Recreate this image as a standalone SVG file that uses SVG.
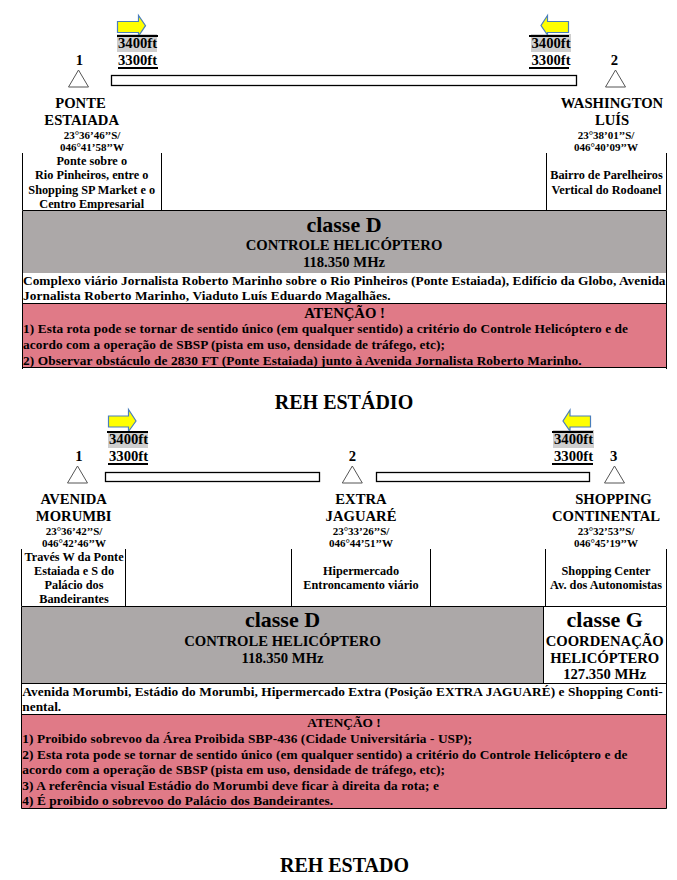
<svg xmlns="http://www.w3.org/2000/svg" width="677" height="880" viewBox="0 0 677 880">
<style>
text{font-family:"Liberation Serif","Times New Roman",serif;font-weight:700;fill:#000}
.m{text-anchor:middle}
.n{font-size:14.67px}
.s{font-size:11px}
.d{font-size:12.27px}
.c{font-size:22px}
.b{font-size:13.33px}
.t{font-size:20px}
.l{stroke:#000;stroke-width:1;fill:none}
.k{stroke:#000;stroke-width:2;fill:none}
.bar{stroke:#000;stroke-width:1.3;fill:#fff}
.tri{fill:#fff;stroke:#555;stroke-width:1}
.ar{fill:#ff0;stroke:#4a7ebb;stroke-width:1.2}
.gr{fill:#aca8a8}
.rd{fill:#e07a87}
.hl{fill:#cfcfcf}
</style>
<rect width="677" height="880" fill="#fff"/>
<g id="route-1-connectors">
<rect class="bar" x="111.500" y="75.500" width="465" height="10"/>
</g>
<g id="alt-1a">
<rect class="hl" x="117" y="34" width="40" height="18"/>
<path class="ar" d="M117.500 21.500H138.500V15.500L145.500 25.700L138.500 36V32.500H117.500Z"/>
<line class="k" x1="117" y1="36" x2="158" y2="36"/>
<text class="n" x="118" y="48">3400ft</text>
<text class="n" x="118" y="65">3300ft</text>
<line class="k" x1="118" y1="68" x2="158" y2="68"/>
</g>
<g id="alt-1b">
<rect class="hl" x="531" y="34" width="40" height="18"/>
<path class="ar" d="M568.500 21.500H547.500V15.500L541 25.500L547.500 35V32.500H568.500Z"/>
<line class="k" x1="529" y1="36" x2="569" y2="36"/>
<text class="n" x="531.500" y="48">3400ft</text>
<text class="n" x="531.500" y="65">3300ft</text>
<line class="k" x1="529" y1="68" x2="569" y2="68"/>
</g>
<g id="p1-1">
<text class="n m" x="79.500" y="65">1</text>
<path class="tri" d="M78.500 70L68.500 87H88.500Z"/>
<text class="n m" x="80.500" y="108">PONTE</text>
<text class="n m" x="81.700" y="125">ESTAIADA</text>
<text class="s m" x="92" y="139">23°36’46’’S/</text>
<text class="s m" x="92" y="151">046°41’58’’W</text>
<line class="l" x1="22.500" y1="153" x2="22.500" y2="210"/>
<line class="l" x1="161.500" y1="153" x2="161.500" y2="210"/>
<text class="d m" x="91.700" y="165">Ponte sobre o</text>
<text class="d m" x="91.700" y="179">Rio Pinheiros, entre o</text>
<text class="d m" x="91.700" y="194">Shopping SP Market e o</text>
<text class="d m" x="91.700" y="208">Centro Empresarial</text>
</g>
<g id="p1-2">
<text class="n m" x="614.500" y="65">2</text>
<path class="tri" d="M615.500 70L605.500 87H625.500Z"/>
<text class="n m" x="612" y="108">WASHINGTON</text>
<text class="n m" x="612" y="125">LUÍS</text>
<text class="s m" x="606" y="139">23°38’01’’S/</text>
<text class="s m" x="606" y="151">046°40’09’’W</text>
<line class="l" x1="546.500" y1="153" x2="546.500" y2="210"/>
<line class="l" x1="666.500" y1="153" x2="666.500" y2="210"/>
<text class="d m" x="606.500" y="179">Bairro de Parelheiros</text>
<text class="d m" x="606.500" y="194">Vertical do Rodoanel</text>
</g>
<g id="info-1">
<rect class="gr" x="22.500" y="210.500" width="644" height="62.500"/>
<rect class="rd" x="22.500" y="303.500" width="644" height="64"/>
<path class="l" d="M22.500 369V210.500H666.500V369M22.500 367.500H666.500M22.500 303.500H666.500"/>
<text class="c m" x="344" y="232">classe D</text>
<text class="n m" x="344" y="250">CONTROLE HELICÓPTERO</text>
<text class="n m" x="344" y="267">118.350 MHz</text>
<text class="b" x="23" y="285" textLength="642.500">Complexo viário Jornalista Roberto Marinho sobre o Rio Pinheiros (Ponte Estaiada), Edifício da Globo, Avenida</text>
<text class="b" x="23" y="300" textLength="367.700">Jornalista Roberto Marinho, Viaduto Luís Eduardo Magalhães.</text>
<text class="n m" x="344.500" y="318">ATENÇÃO !</text>
<text class="b" x="23" y="333" textLength="605">1) Esta rota pode se tornar de sentido único (em qualquer sentido) a critério do Controle Helicóptero e de</text>
<text class="b" x="23" y="349" textLength="422">acordo com a operação de SBSP (pista em uso, densidade de tráfego, etc);</text>
<text class="b" x="23" y="365" textLength="558.700">2) Observar obstáculo de 2830 FT (Ponte Estaiada) junto à Avenida Jornalista Roberto Marinho.</text>
</g>
<text class="t m" x="344" y="409">REH ESTÁDIO</text>
<g id="route-2-connectors">
<rect class="bar" x="105.500" y="472.500" width="214" height="9"/>
<rect class="bar" x="376.500" y="472.500" width="213" height="9"/>
</g>
<g id="alt-2a">
<rect class="hl" x="108" y="433" width="40" height="15"/>
<path class="ar" d="M108.500 416H128.500V409.500L136 421L128.500 431.500V427H108.500Z"/>
<line class="k" x1="107" y1="432" x2="148" y2="432"/>
<text class="n" x="109" y="444">3400ft</text>
<text class="n" x="109" y="461">3300ft</text>
<line class="k" x1="108" y1="464" x2="148" y2="464"/>
</g>
<g id="alt-2b">
<rect class="hl" x="553" y="430" width="41" height="18"/>
<path class="ar" d="M590.500 416H570V410L563 421L570 431V427H590.500Z"/>
<line class="k" x1="552" y1="432" x2="593" y2="432"/>
<text class="n" x="554" y="444">3400ft</text>
<text class="n" x="554" y="461">3300ft</text>
<line class="k" x1="552" y1="464" x2="593" y2="464"/>
</g>
<g id="p2-1">
<text class="n m" x="79" y="461">1</text>
<path class="tri" d="M77.500 466L67.500 483H87.500Z"/>
<text class="n m" x="73.700" y="504">AVENIDA</text>
<text class="n m" x="73.700" y="521">MORUMBI</text>
<text class="s m" x="74" y="535">23°36’42’’S/</text>
<text class="s m" x="74" y="547">046°42’46’’W</text>
<line class="l" x1="21.500" y1="549" x2="21.500" y2="606"/>
<line class="l" x1="125.500" y1="549" x2="125.500" y2="606"/>
<text class="d m" x="74" y="561">Través W da Ponte</text>
<text class="d m" x="74" y="575">Estaiada e S do</text>
<text class="d m" x="74" y="589">Palácio dos</text>
<text class="d m" x="74" y="603">Bandeirantes</text>
</g>
<g id="p2-2">
<text class="n m" x="352.300" y="461">2</text>
<path class="tri" d="M352.300 466L342.300 483H362.300Z"/>
<text class="n m" x="361" y="504">EXTRA</text>
<text class="n m" x="361" y="521">JAGUARÉ</text>
<text class="s m" x="361" y="535">23°33’26’’S/</text>
<text class="s m" x="361" y="547">046°44’51’’W</text>
<line class="l" x1="291.500" y1="549" x2="291.500" y2="606"/>
<line class="l" x1="430.500" y1="549" x2="430.500" y2="606"/>
<text class="d m" x="361" y="575">Hipermercado</text>
<text class="d m" x="361" y="589">Entroncamento viário</text>
</g>
<g id="p2-3">
<text class="n m" x="613.700" y="461">3</text>
<path class="tri" d="M614.500 466L604.500 483H624.500Z"/>
<text class="n m" x="613.500" y="504">SHOPPING</text>
<text class="n m" x="606" y="521">CONTINENTAL</text>
<text class="s m" x="606" y="535">23°32’53’’S/</text>
<text class="s m" x="606" y="547">046°45’19’’W</text>
<line class="l" x1="545.500" y1="549" x2="545.500" y2="606"/>
<line class="l" x1="666.500" y1="549" x2="666.500" y2="606"/>
<text class="d m" x="606" y="575">Shopping Center</text>
<text class="d m" x="606" y="589">Av. dos Autonomistas</text>
</g>
<g id="info-2">
<rect class="gr" x="21.500" y="606.500" width="522" height="77"/>
<rect class="rd" x="21.500" y="714" width="645" height="94.500"/>
<path class="l" d="M21.500 606.500H666.500V808.500H21.500ZM21.500 683.500H666.500M21.500 714.500H666.500M543.500 606.500V683.500"/>
<text class="c m" x="282.500" y="627">classe D</text>
<text class="n m" x="282.500" y="646">CONTROLE HELICÓPTERO</text>
<text class="n m" x="282.500" y="663">118.350 MHz</text>
<text class="c m" x="604.700" y="627">classe G</text>
<text class="n m" x="604.700" y="646">COORDENAÇÃO</text>
<text class="n m" x="604.700" y="663">HELICÓPTERO</text>
<text class="n m" x="604.700" y="679">127.350 MHz</text>
<text class="b" x="22.300" y="696" textLength="640.400">Avenida Morumbi, Estádio do Morumbi, Hipermercado Extra (Posição EXTRA JAGUARÉ) e Shopping Conti-</text>
<text class="b" x="22.300" y="711">nental.</text>
<text class="b m" x="344" y="727">ATENÇÃO !</text>
<text class="b" x="22.300" y="743" textLength="450">1) Proibido sobrevoo da Área Proibida SBP-436 (Cidade Universitária - USP);</text>
<text class="b" x="22.300" y="759" textLength="605">2) Esta rota pode se tornar de sentido único (em qualquer sentido) a critério do Controle Helicóptero e de</text>
<text class="b" x="22.300" y="774" textLength="422.700">acordo com a operação de SBSP (pista em uso, densidade de tráfego, etc);</text>
<text class="b" x="22.300" y="790" textLength="416.700">3) A referência visual Estádio do Morumbi deve ficar à direita da rota; e</text>
<text class="b" x="22.300" y="805" textLength="310.700">4) É proibido o sobrevoo do Palácio dos Bandeirantes.</text>
</g>
<text class="t m" x="344.500" y="872">REH ESTADO</text>
</svg>
